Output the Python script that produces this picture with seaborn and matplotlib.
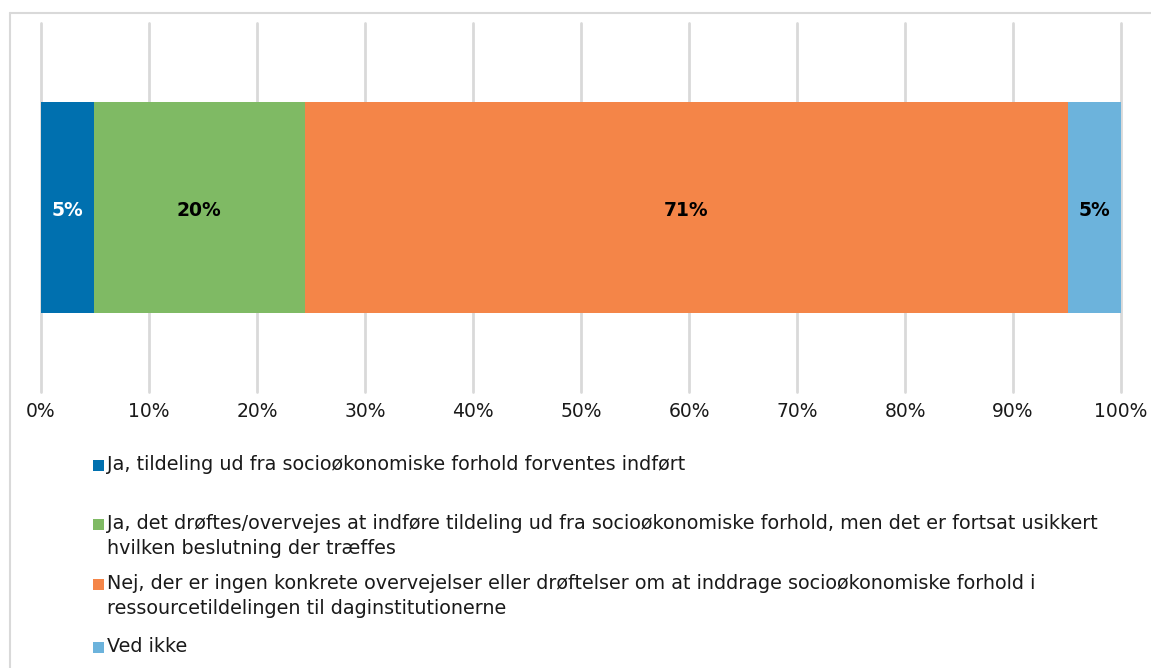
import numpy as np
import pandas as pd
import matplotlib
matplotlib.use("Agg")
import matplotlib.pyplot as plt
from matplotlib.lines import Line2D
from matplotlib.patches import Rectangle
import seaborn as sns

# Survey answers (share of respondents, %)
categories = [
    "Ja, tildeling ud fra socioøkonomiske forhold forventes indført",
    "Ja, det drøftes/overvejes at indføre tildeling ud fra socioøkonomiske forhold, men det er fortsat usikkert\nhvilken beslutning der træffes",
    "Nej, der er ingen konkrete overvejelser eller drøftelser om at inddrage socioøkonomiske forhold i\nressourcetildelingen til daginstitutionerne",
    "Ved ikke",
]
shares = [4.9, 19.5, 70.7, 4.9]
colors = ["#0070AF", "#7FBA64", "#F48548", "#6CB3DC"]
label_colors = ["white", "black", "black", "black"]
x_ticks = list(range(0, 101, 10))
x_tick_labels = [f"{t}%" for t in x_ticks]

sns.set_theme(style="white")
plt.rcParams["font.family"] = ["DejaVu Sans"]

W, H = 1151, 668
fig = plt.figure(figsize=(W / 100, H / 100), dpi=100)
ax = fig.add_axes([41 / W, 1 - 392 / H, (1121 - 41) / W, (392 - 23) / H])

# Stacked bar: draw cumulative totals from the outermost inwards
df = pd.DataFrame({"answer": categories, "share": shares, "color": colors})
df["cum"] = df["share"].cumsum()
for i in reversed(range(len(df))):
    sns.barplot(x=[df["cum"].iloc[i]], y=[""], orient="h", color=df["color"].iloc[i],
                width=0.8, linewidth=0, saturation=1, ax=ax, zorder=2)

for i, row in df.iterrows():
    ax.text(row["cum"] - row["share"] / 2, 0.01, f"{row['share']:.0f}%", ha="center", va="center",
            fontsize=13.5, fontweight="bold", color=label_colors[i], zorder=3)

ax.set_xlim(0, 100)
ax.set_ylim(0.7, -0.7)
ax.set_xticks(x_ticks)
ax.set_xticklabels(x_tick_labels)
ax.set_yticks([])
ax.set_xlabel("")
ax.set_ylabel("")
ax.grid(axis="x", color="#D9D9D9", linewidth=2, zorder=0)
for gl in ax.get_xgridlines():
    gl.set_clip_on(False)
ax.set_axisbelow(True)
for s in ax.spines.values():
    s.set_visible(False)
ax.tick_params(axis="x", length=0, pad=7, labelsize=13.5, labelcolor="#1A1A1A")

# Legend, one entry per row below the axis
text_x = 107 / W
sq = 11
entry_rows = [(465, 465), (524, 536), (584, 596), (647, 647)]
for (first_y, center_y), label, c in zip(entry_rows, categories, colors):
    fig.add_artist(Rectangle((93 / W, 1 - (first_y + sq / 2) / H), sq / W, sq / H,
                             transform=fig.transFigure, facecolor=c, edgecolor="none"))
    fig.text(text_x, 1 - center_y / H, label, ha="left", va="center", fontsize=13.8,
             color="#1A1A1A", linespacing=1.38)

# Chart frame
frame = "#D9D9D9"
fig.add_artist(Line2D([10 / W, 1], [1 - 13 / H, 1 - 13 / H], transform=fig.transFigure,
                      color=frame, linewidth=1.5))
fig.add_artist(Line2D([10 / W, 10 / W], [1 - 13 / H, 0], transform=fig.transFigure,
                      color=frame, linewidth=1.5))

fig.savefig("out.png", dpi=100, facecolor="white")
